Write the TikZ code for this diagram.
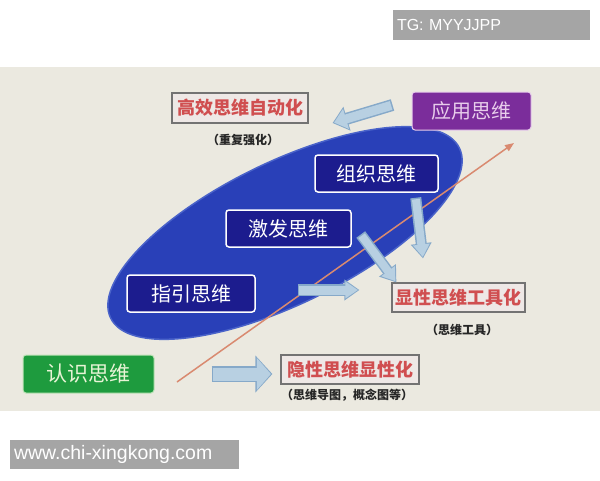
\documentclass[tikz,border=0pt]{standalone}
\usepackage{fontspec}
\usetikzlibrary{arrows.meta}
\newfontfamily\cjk{Noto Sans CJK SC}
\newfontfamily\latinsans{Liberation Sans}
\definecolor{bgcol}{HTML}{EBE9E0}
\definecolor{ellfill}{HTML}{2940B8}
\definecolor{elledge}{HTML}{4A63C9}
\definecolor{navy}{HTML}{1C1C8E}
\definecolor{purp}{HTML}{7B2D9B}
\definecolor{purpedge}{HTML}{E8CDEB}
\definecolor{grn}{HTML}{1E9B3E}
\definecolor{grnedge}{HTML}{BEE3B8}
\definecolor{grntext}{HTML}{E8F4D6}
\definecolor{redtxt}{HTML}{D04E50}
\definecolor{redbox}{HTML}{EEE8E6}
\definecolor{arrfill}{HTML}{B8D0E2}
\definecolor{arredge}{HTML}{86A9C9}
\definecolor{linecol}{HTML}{D98A70}
\definecolor{taggray}{HTML}{A5A5A5}
\tikzset{
  navybox/.style={draw=white, line width=1.5pt, fill=navy, rounded corners=3pt, text=white, inner sep=0pt,
    font=\cjk\fontsize{20pt}{24pt}\selectfont},
  purpbox/.style={draw=purpedge, line width=1pt, fill=purp, rounded corners=3pt, text=purpedge, inner sep=0pt,
    font=\cjk\fontsize{20pt}{24pt}\selectfont},
  grnbox/.style={draw=grnedge, line width=1pt, fill=grn, rounded corners=3pt, text=grntext, inner sep=0pt,
    font=\cjk\fontsize{21pt}{25pt}\selectfont},
  redlabel/.style={draw=black!55, line width=1.2pt, fill=redbox, text=redtxt, inner sep=0pt,
    font=\cjk\bfseries\fontsize{18pt}{22pt}\selectfont},
  subtitle/.style={text=black!85, inner sep=0pt, font=\cjk\bfseries\fontsize{12pt}{14pt}\selectfont},
  tagbox/.style={fill=taggray, text=white, inner ysep=0pt, align=left, font=\latinsans},
  arrout/.style={draw=arredge, line cap=butt},
  arrin/.style={draw=arrfill, line cap=butt},
}
\begin{document}
\begin{tikzpicture}[x=1pt,y=-1pt]
\useasboundingbox (0,0) rectangle (600,480);
\fill[white] (0,0) rectangle (600,480);
\fill[bgcol] (0,67) rectangle (600,411);

% labels
\node[tagbox, text width=189pt, inner xsep=4pt, minimum height=30pt,
  font=\latinsans\fontsize{16pt}{18pt}\selectfont] (tg) at (491.5,25) {TG: MYYJJPP};
\node[tagbox, text width=221pt, inner xsep=4pt, minimum height=29pt,
  font=\latinsans\fontsize{19.5pt}{21pt}\selectfont] (www) at (124.5,454.5) {www.chi-xingkong.com};

% ellipse
\filldraw[fill=ellfill, draw=elledge, line width=1.5pt, rotate around={26:(285,233)}]
  (285,233) ellipse [x radius=194, y radius=71];

% diagonal line
\coordinate (ls) at (177,382);
\coordinate (le) at (514,143);
\draw[linecol, line width=1.5pt, -{Triangle[length=9pt,width=7pt]}] (ls) -- (le);

% nodes
\node[redlabel, minimum width=136pt, minimum height=30pt] (gao) at (240,108) {高效思维自动化};
\node[subtitle] (gaosub) at (243,140) {（重复强化）};
\node[purpbox, minimum width=119pt, minimum height=38pt] (ying) at (471.5,111) {应用思维};
\node[navybox, minimum width=123pt, minimum height=37pt] (zu) at (376.5,173.5) {组织思维};
\node[navybox, minimum width=125pt, minimum height=37pt] (ji) at (288.5,228.5) {激发思维};
\node[navybox, minimum width=128pt, minimum height=37pt] (zhi) at (191,293.5) {指引思维};
\node[redlabel, minimum width=133pt, minimum height=29pt] (xian) at (458.5,297.5) {显性思维工具化};
\node[subtitle] (xiansub) at (462,330) {（思维工具）};
\node[grnbox, minimum width=131pt, minimum height=38pt] (ren) at (88.5,374) {认识思维};
\node[redlabel, minimum width=138pt, minimum height=29pt] (yin) at (350,369.5) {隐性思维显性化};
\node[subtitle] (yinsub) at (347,395) {（思维导图，概念图等）};

% block arrows
% ren -> yin
\draw[arrout, line width=16pt, -{Triangle[length=17pt,width=36pt]}] ([xshift=57]ren.east) -- ([xshift=-8]yin.west |- ren.east);
\draw[arrin, line width=13pt, shorten <=1.5pt, shorten >=1.5pt, -{Triangle[length=14pt,width=31pt]}] ([xshift=57]ren.east) -- ([xshift=-8]yin.west |- ren.east);
% ying -> gao
\draw[arrout, line width=12pt, -{Triangle[length=15pt,width=24pt]}] ([shift={(-19,-6)}]ying.west) -- ([shift={(24,15)}]gao.east);
\draw[arrin, line width=9pt, shorten <=1.5pt, shorten >=1.5pt, -{Triangle[length=12.5pt,width=20pt]}] ([shift={(-19,-6)}]ying.west) -- ([shift={(24,15)}]gao.east);
% zhi -> xian
\draw[arrout, line width=12pt, -{Triangle[length=15pt,width=20pt]}] ([shift={(42,-3.5)}]zhi.east) -- ([shift={(-32,-7.5)}]xian.west);
\draw[arrin, line width=9pt, shorten <=1.5pt, shorten >=1.5pt, -{Triangle[length=12.5pt,width=16pt]}] ([shift={(42,-3.5)}]zhi.east) -- ([shift={(-32,-7.5)}]xian.west);
% ji -> xian
\draw[arrout, line width=11pt, -{Triangle[length=15pt,width=20pt]}] ([shift={(9,6)}]ji.east) -- ([shift={(5,0)}]xian.north west);
\draw[arrin, line width=8pt, shorten <=1.5pt, shorten >=1.5pt, -{Triangle[length=12.5pt,width=16pt]}] ([shift={(9,6)}]ji.east) -- ([shift={(5,0)}]xian.north west);
% zu -> xian
\draw[arrout, line width=11pt, -{Triangle[length=15pt,width=20pt]}] ([shift={(-23,5)}]zu.south east) -- ([shift={(-35.5,-24)}]xian.north);
\draw[arrin, line width=8pt, shorten <=1.5pt, shorten >=1.5pt, -{Triangle[length=12.5pt,width=16pt]}] ([shift={(-23,5)}]zu.south east) -- ([shift={(-35.5,-24)}]xian.north);
\end{tikzpicture}
\end{document}
